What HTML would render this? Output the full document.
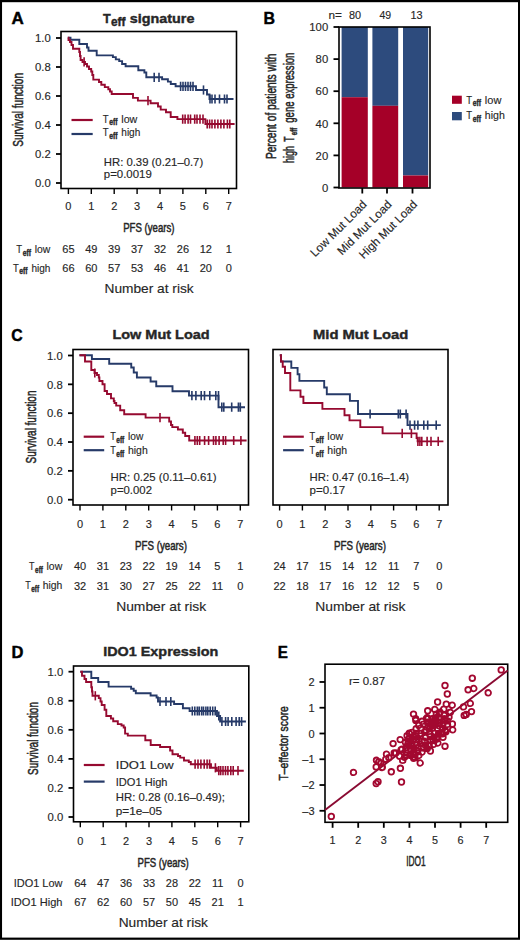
<!DOCTYPE html>
<html><head><meta charset="utf-8"><style>
html,body{margin:0;padding:0;background:#fff;}
svg{display:block;font-family:"Liberation Sans", sans-serif;}
text{stroke:#262626;stroke-width:0.14px;}
text.h{stroke-width:0.5px;}
text[font-weight=bold]{stroke-width:0.4px;}
text.L{stroke:#000;stroke-width:0.45px;}
</style></head><body>
<svg width="520" height="940" viewBox="0 0 520 940">
<rect width="520" height="940" fill="#fff"/>
<rect x="0.95" y="1.1" width="518.15" height="937.6" fill="none" stroke="#000" stroke-width="2.2"/>
<text x="11.50" y="24" font-size="17.2" font-weight="bold" textLength="12.29" lengthAdjust="spacingAndGlyphs" fill="#000" class="L">A</text>
<text x="102.90" y="22.9" font-size="13.4" font-weight="bold" textLength="7.71" lengthAdjust="spacingAndGlyphs" fill="#262626">T</text>
<text x="111.00" y="26.3" font-size="12" font-weight="bold" textLength="14.47" lengthAdjust="spacingAndGlyphs" fill="#262626">eff</text>
<text x="129.80" y="22.9" font-size="13.6" font-weight="bold" textLength="64.62" lengthAdjust="spacingAndGlyphs" fill="#262626">signature</text>
<rect x="61" y="31.5" width="175.5" height="157.0" fill="none" stroke="#000" stroke-width="1.6"/>
<line x1="56" y1="183.0" x2="61" y2="183.0" stroke="#000" stroke-width="1.8"/>
<text x="50.8" y="187.3" font-size="11.3" text-anchor="end" fill="#262626">0.0</text>
<line x1="56" y1="154.0" x2="61" y2="154.0" stroke="#000" stroke-width="1.8"/>
<text x="50.8" y="158.3" font-size="11.3" text-anchor="end" fill="#262626">0.2</text>
<line x1="56" y1="125.0" x2="61" y2="125.0" stroke="#000" stroke-width="1.8"/>
<text x="50.8" y="129.3" font-size="11.3" text-anchor="end" fill="#262626">0.4</text>
<line x1="56" y1="95.99999999999999" x2="61" y2="95.99999999999999" stroke="#000" stroke-width="1.8"/>
<text x="50.8" y="100.3" font-size="11.3" text-anchor="end" fill="#262626">0.6</text>
<line x1="56" y1="67.0" x2="61" y2="67.0" stroke="#000" stroke-width="1.8"/>
<text x="50.8" y="71.3" font-size="11.3" text-anchor="end" fill="#262626">0.8</text>
<line x1="56" y1="38.0" x2="61" y2="38.0" stroke="#000" stroke-width="1.8"/>
<text x="50.8" y="42.3" font-size="11.3" text-anchor="end" fill="#262626">1.0</text>
<line x1="68.4" y1="188.5" x2="68.4" y2="194.0" stroke="#000" stroke-width="1.4"/>
<text x="68.4" y="210" font-size="11" text-anchor="middle" fill="#262626">0</text>
<line x1="91.30000000000001" y1="188.5" x2="91.30000000000001" y2="194.0" stroke="#000" stroke-width="1.4"/>
<text x="91.3" y="210" font-size="11" text-anchor="middle" fill="#262626">1</text>
<line x1="114.2" y1="188.5" x2="114.2" y2="194.0" stroke="#000" stroke-width="1.4"/>
<text x="114.2" y="210" font-size="11" text-anchor="middle" fill="#262626">2</text>
<line x1="137.1" y1="188.5" x2="137.1" y2="194.0" stroke="#000" stroke-width="1.4"/>
<text x="137.1" y="210" font-size="11" text-anchor="middle" fill="#262626">3</text>
<line x1="160.0" y1="188.5" x2="160.0" y2="194.0" stroke="#000" stroke-width="1.4"/>
<text x="160.0" y="210" font-size="11" text-anchor="middle" fill="#262626">4</text>
<line x1="182.9" y1="188.5" x2="182.9" y2="194.0" stroke="#000" stroke-width="1.4"/>
<text x="182.9" y="210" font-size="11" text-anchor="middle" fill="#262626">5</text>
<line x1="205.79999999999998" y1="188.5" x2="205.79999999999998" y2="194.0" stroke="#000" stroke-width="1.4"/>
<text x="205.8" y="210" font-size="11" text-anchor="middle" fill="#262626">6</text>
<line x1="228.7" y1="188.5" x2="228.7" y2="194.0" stroke="#000" stroke-width="1.4"/>
<text x="228.7" y="210" font-size="11" text-anchor="middle" fill="#262626">7</text>
<text class="h" transform="translate(22.9,146.80) rotate(-90)" x="0" y="0" font-size="13.8" textLength="73.82" lengthAdjust="spacingAndGlyphs" fill="#262626">Survival function</text>
<text x="123.20" y="232.4" font-size="12.9" textLength="51.29" lengthAdjust="spacingAndGlyphs" fill="#262626" class="h">PFS (years)</text>
<text x="16.25" y="253" font-size="11.5" textLength="5.81" lengthAdjust="spacingAndGlyphs" fill="#262626">T</text>
<text x="22.65" y="255.7" font-size="8.6" font-weight="bold" textLength="8.28" lengthAdjust="spacingAndGlyphs" fill="#262626">eff</text>
<text x="34.75" y="253" font-size="11.5" textLength="15.60" lengthAdjust="spacingAndGlyphs" fill="#262626">low</text>
<text x="12.90" y="271.7" font-size="11.5" textLength="5.81" lengthAdjust="spacingAndGlyphs" fill="#262626">T</text>
<text x="19.30" y="274.4" font-size="8.6" font-weight="bold" textLength="8.28" lengthAdjust="spacingAndGlyphs" fill="#262626">eff</text>
<text x="31.40" y="271.7" font-size="11.5" textLength="19.01" lengthAdjust="spacingAndGlyphs" fill="#262626">high</text>
<text x="68.4" y="253" font-size="11" text-anchor="middle" fill="#262626">65</text>
<text x="91.3" y="253" font-size="11" text-anchor="middle" fill="#262626">49</text>
<text x="114.2" y="253" font-size="11" text-anchor="middle" fill="#262626">39</text>
<text x="137.1" y="253" font-size="11" text-anchor="middle" fill="#262626">37</text>
<text x="160.0" y="253" font-size="11" text-anchor="middle" fill="#262626">32</text>
<text x="182.9" y="253" font-size="11" text-anchor="middle" fill="#262626">26</text>
<text x="205.8" y="253" font-size="11" text-anchor="middle" fill="#262626">12</text>
<text x="228.7" y="253" font-size="11" text-anchor="middle" fill="#262626">1</text>
<text x="68.4" y="272" font-size="11" text-anchor="middle" fill="#262626">66</text>
<text x="91.3" y="272" font-size="11" text-anchor="middle" fill="#262626">60</text>
<text x="114.2" y="272" font-size="11" text-anchor="middle" fill="#262626">57</text>
<text x="137.1" y="272" font-size="11" text-anchor="middle" fill="#262626">53</text>
<text x="160.0" y="272" font-size="11" text-anchor="middle" fill="#262626">46</text>
<text x="182.9" y="272" font-size="11" text-anchor="middle" fill="#262626">41</text>
<text x="205.8" y="272" font-size="11" text-anchor="middle" fill="#262626">20</text>
<text x="228.7" y="272" font-size="11" text-anchor="middle" fill="#262626">0</text>
<text x="104.50" y="293" font-size="13" textLength="89.20" lengthAdjust="spacingAndGlyphs" fill="#262626">Number at risk</text>
<path d="M67.8,37.8 H70.5 V39.8 H79.3 V44 H87 V47.5 H88.5 V50.8 H96.7 V55.4 H112.9 V57.1 H115.8 V59.4 H119.2 V61.1 H122.1 V64 H125.6 V66.3 H138.3 V70.3 H144.4 V72.5 H146.3 V77.3 H162.1 V79.2 H167.9 V81.6 H170.8 V84 H175.6 V86.3 H196 V90 H207 V94.5 H209.5 V99 H233.5" fill="none" stroke="#263a68" stroke-width="1.9" stroke-linejoin="miter"/>
<path d="M154.2,72.7V81.89999999999999M159,72.7V81.89999999999999" fill="none" stroke="#263a68" stroke-width="1.6"/>
<path d="M180.6,81.7V90.89999999999999M183,81.7V90.89999999999999M185.5,81.7V90.89999999999999M188,81.7V90.89999999999999M190.5,81.7V90.89999999999999M193,81.7V90.89999999999999" fill="none" stroke="#263a68" stroke-width="1.6"/>
<path d="M203.5,85.4V94.6" fill="none" stroke="#263a68" stroke-width="1.6"/>
<path d="M210,94.4V103.6M212,94.4V103.6M215,94.4V103.6M219.5,94.4V103.6M224.5,94.4V103.6M227,94.4V103.6" fill="none" stroke="#263a68" stroke-width="1.6"/>
<path d="M67.8,37.8 H68.5 V40 H70 V42 H71.5 V45 H73 V48.8 H79.3 V52 H80 V56 H80.6 V60 H82.5 V62 H85 V64 H87 V66.5 H89 V69 H91.2 V71.5 H92.3 V75 H93.3 V79.6 H99 V82 H101.3 V84.8 H104.8 V87.1 H108.3 V89.3 H110 V91.5 H111.7 V94 H133 V97.9 H137.9 V100.6 H150.6 V103.2 H158 V106.5 H160.7 V109.6 H166 V112.2 H170.7 V117 H177.4 V119.1 H205.4 V124 H234.6" fill="none" stroke="#960a30" stroke-width="1.9" stroke-linejoin="miter"/>
<path d="M84.1,57.199999999999996V66.39999999999999" fill="none" stroke="#960a30" stroke-width="1.6"/>
<path d="M148,96.0V105.19999999999999" fill="none" stroke="#960a30" stroke-width="1.6"/>
<path d="M182.7,114.5V123.69999999999999M185.1,114.5V123.69999999999999M188.1,114.5V123.69999999999999M190.5,114.5V123.69999999999999M194.7,114.5V123.69999999999999M197,114.5V123.69999999999999M200,114.5V123.69999999999999M203,114.5V123.69999999999999" fill="none" stroke="#960a30" stroke-width="1.6"/>
<path d="M207.2,119.4V128.6M209.6,119.4V128.6M212,119.4V128.6M214.9,119.4V128.6M217.9,119.4V128.6M220.9,119.4V128.6M223.9,119.4V128.6M227.4,119.4V128.6M229.8,119.4V128.6" fill="none" stroke="#960a30" stroke-width="1.6"/>
<line x1="71.5" y1="120" x2="92.7" y2="120" stroke="#960a30" stroke-width="2.2"/>
<line x1="71.5" y1="134" x2="92.7" y2="134" stroke="#263a68" stroke-width="2.2"/>
<text x="102.80" y="122.7" font-size="11.5" textLength="5.81" lengthAdjust="spacingAndGlyphs" fill="#262626">T</text>
<text x="109.20" y="125.4" font-size="8.6" font-weight="bold" textLength="8.28" lengthAdjust="spacingAndGlyphs" fill="#262626">eff</text>
<text x="121.30" y="122.7" font-size="11.5" textLength="16.05" lengthAdjust="spacingAndGlyphs" fill="#262626">low</text>
<text x="102.80" y="136.4" font-size="11.5" textLength="5.81" lengthAdjust="spacingAndGlyphs" fill="#262626">T</text>
<text x="109.20" y="139.1" font-size="8.6" font-weight="bold" textLength="8.28" lengthAdjust="spacingAndGlyphs" fill="#262626">eff</text>
<text x="121.30" y="136.4" font-size="11.5" textLength="19.01" lengthAdjust="spacingAndGlyphs" fill="#262626">high</text>
<text x="103.80" y="165.5" font-size="11.2" textLength="99.38" lengthAdjust="spacingAndGlyphs" fill="#262626">HR: 0.39 (0.21–0.7)</text>
<text x="103.80" y="178.1" font-size="11.2" textLength="47.99" lengthAdjust="spacingAndGlyphs" fill="#262626">p=0.0019</text>
<text x="263.40" y="23.75" font-size="17.2" font-weight="bold" textLength="11.53" lengthAdjust="spacingAndGlyphs" fill="#000" class="L">B</text>
<text x="328.40" y="19.1" font-size="11.2" textLength="13.40" lengthAdjust="spacingAndGlyphs" fill="#262626">n=</text>
<text x="349.00" y="19.1" font-size="11.2" textLength="12.13" lengthAdjust="spacingAndGlyphs" fill="#262626">80</text>
<text x="379.50" y="19.1" font-size="11.2" textLength="11.72" lengthAdjust="spacingAndGlyphs" fill="#262626">49</text>
<text x="410.50" y="19.1" font-size="11.2" textLength="12.13" lengthAdjust="spacingAndGlyphs" fill="#262626">13</text>
<rect x="341.6" y="27" width="26.19999999999999" height="70.21875" fill="#2d4b7d"/>
<rect x="341.6" y="97.21875" width="26.19999999999999" height="90.28125" fill="#a50028"/>
<rect x="372.4" y="27" width="25.80000000000001" height="78.8055" fill="#2d4b7d"/>
<rect x="372.4" y="105.8055" width="25.80000000000001" height="81.6945" fill="#a50028"/>
<rect x="403" y="27" width="25.19999999999999" height="148.4625" fill="#2d4b7d"/>
<rect x="403" y="175.4625" width="25.19999999999999" height="12.037499999999994" fill="#a50028"/>
<rect x="339" y="27" width="91" height="161" fill="none" stroke="#000" stroke-width="1.6"/>
<line x1="333.5" y1="187.5" x2="339" y2="187.5" stroke="#000" stroke-width="1.8"/>
<text x="328.2" y="191.7" font-size="11.3" text-anchor="end" fill="#262626">0</text>
<line x1="333.5" y1="155.4" x2="339" y2="155.4" stroke="#000" stroke-width="1.8"/>
<text x="328.2" y="159.6" font-size="11.3" text-anchor="end" fill="#262626">20</text>
<line x1="333.5" y1="123.3" x2="339" y2="123.3" stroke="#000" stroke-width="1.8"/>
<text x="328.2" y="127.5" font-size="11.3" text-anchor="end" fill="#262626">40</text>
<line x1="333.5" y1="91.2" x2="339" y2="91.2" stroke="#000" stroke-width="1.8"/>
<text x="328.2" y="95.4" font-size="11.3" text-anchor="end" fill="#262626">60</text>
<line x1="333.5" y1="59.099999999999994" x2="339" y2="59.099999999999994" stroke="#000" stroke-width="1.8"/>
<text x="328.2" y="63.3" font-size="11.3" text-anchor="end" fill="#262626">80</text>
<line x1="333.5" y1="27.0" x2="339" y2="27.0" stroke="#000" stroke-width="1.8"/>
<text x="328.2" y="31.2" font-size="11.3" text-anchor="end" fill="#262626">100</text>
<line x1="362.3" y1="188" x2="362.3" y2="193.5" stroke="#000" stroke-width="1.8"/>
<line x1="387" y1="188" x2="387" y2="193.5" stroke="#000" stroke-width="1.8"/>
<line x1="412.5" y1="188" x2="412.5" y2="193.5" stroke="#000" stroke-width="1.8"/>
<text transform="translate(367.5,205.2) rotate(-45)" font-size="11.8" text-anchor="end" fill="#262626">Low Mut Load</text>
<text transform="translate(392.5,205.2) rotate(-45)" font-size="11.8" text-anchor="end" fill="#262626">Mid Mut Load</text>
<text transform="translate(418,205.2) rotate(-45)" font-size="11.8" text-anchor="end" fill="#262626">High Mut Load</text>
<text class="h" transform="translate(276,159.10) rotate(-90)" x="0" y="0" font-size="14" textLength="105.60" lengthAdjust="spacingAndGlyphs" fill="#262626">Percent of patients with</text>
<text class="h" transform="translate(293.7,163.10) rotate(-90)" x="0" y="0" font-size="14" textLength="17.01" lengthAdjust="spacingAndGlyphs" fill="#262626">high</text>
<text class="h" transform="translate(293.7,141.80) rotate(-90)" x="0" y="0" font-size="14" textLength="5.31" lengthAdjust="spacingAndGlyphs" fill="#262626">T</text>
<text class="h" transform="translate(296.9,135.20) rotate(-90)" x="0" y="0" font-size="9" font-weight="bold" textLength="7.48" lengthAdjust="spacingAndGlyphs" fill="#262626">eff</text>
<text class="h" transform="translate(293.7,122.70) rotate(-90)" x="0" y="0" font-size="14" textLength="70.09" lengthAdjust="spacingAndGlyphs" fill="#262626">gene expression</text>
<rect x="452" y="95.7" width="9.8" height="8.1" fill="#a50028"/>
<rect x="452" y="112" width="9.8" height="8.3" fill="#2d4b7d"/>
<text x="466.30" y="103.5" font-size="11.5" textLength="5.81" lengthAdjust="spacingAndGlyphs" fill="#262626">T</text>
<text x="472.70" y="106.2" font-size="8.6" font-weight="bold" textLength="8.28" lengthAdjust="spacingAndGlyphs" fill="#262626">eff</text>
<text x="484.80" y="103.5" font-size="11.5" textLength="16.55" lengthAdjust="spacingAndGlyphs" fill="#262626">low</text>
<text x="466.30" y="119.1" font-size="11.5" textLength="5.81" lengthAdjust="spacingAndGlyphs" fill="#262626">T</text>
<text x="472.70" y="121.8" font-size="8.6" font-weight="bold" textLength="8.28" lengthAdjust="spacingAndGlyphs" fill="#262626">eff</text>
<text x="484.80" y="119.1" font-size="11.5" textLength="20.01" lengthAdjust="spacingAndGlyphs" fill="#262626">high</text>
<text x="11.20" y="340.6" font-size="17.2" font-weight="bold" textLength="11.43" lengthAdjust="spacingAndGlyphs" fill="#000" class="L">C</text>
<text x="112.40" y="339.3" font-size="13.2" font-weight="bold" textLength="97.31" lengthAdjust="spacingAndGlyphs" fill="#262626">Low Mut Load</text>
<text x="313.00" y="339.3" font-size="13.2" font-weight="bold" textLength="95.17" lengthAdjust="spacingAndGlyphs" fill="#262626">Mid Mut Load</text>
<rect x="73" y="349.5" width="175.5" height="155.5" fill="none" stroke="#000" stroke-width="1.6"/>
<line x1="68" y1="499.7" x2="73" y2="499.7" stroke="#000" stroke-width="1.8"/>
<text x="62.8" y="504.0" font-size="11.3" text-anchor="end" fill="#262626">0.0</text>
<line x1="68" y1="470.86" x2="73" y2="470.86" stroke="#000" stroke-width="1.8"/>
<text x="62.8" y="475.16" font-size="11.3" text-anchor="end" fill="#262626">0.2</text>
<line x1="68" y1="442.02" x2="73" y2="442.02" stroke="#000" stroke-width="1.8"/>
<text x="62.8" y="446.32" font-size="11.3" text-anchor="end" fill="#262626">0.4</text>
<line x1="68" y1="413.17999999999995" x2="73" y2="413.17999999999995" stroke="#000" stroke-width="1.8"/>
<text x="62.8" y="417.48" font-size="11.3" text-anchor="end" fill="#262626">0.6</text>
<line x1="68" y1="384.34" x2="73" y2="384.34" stroke="#000" stroke-width="1.8"/>
<text x="62.8" y="388.64" font-size="11.3" text-anchor="end" fill="#262626">0.8</text>
<line x1="68" y1="355.5" x2="73" y2="355.5" stroke="#000" stroke-width="1.8"/>
<text x="62.8" y="359.8" font-size="11.3" text-anchor="end" fill="#262626">1.0</text>
<line x1="80.0" y1="505" x2="80.0" y2="510.5" stroke="#000" stroke-width="1.4"/>
<text x="80.0" y="527.5" font-size="11" text-anchor="middle" fill="#262626">0</text>
<line x1="102.9" y1="505" x2="102.9" y2="510.5" stroke="#000" stroke-width="1.4"/>
<text x="102.9" y="527.5" font-size="11" text-anchor="middle" fill="#262626">1</text>
<line x1="125.8" y1="505" x2="125.8" y2="510.5" stroke="#000" stroke-width="1.4"/>
<text x="125.8" y="527.5" font-size="11" text-anchor="middle" fill="#262626">2</text>
<line x1="148.7" y1="505" x2="148.7" y2="510.5" stroke="#000" stroke-width="1.4"/>
<text x="148.7" y="527.5" font-size="11" text-anchor="middle" fill="#262626">3</text>
<line x1="171.6" y1="505" x2="171.6" y2="510.5" stroke="#000" stroke-width="1.4"/>
<text x="171.6" y="527.5" font-size="11" text-anchor="middle" fill="#262626">4</text>
<line x1="194.5" y1="505" x2="194.5" y2="510.5" stroke="#000" stroke-width="1.4"/>
<text x="194.5" y="527.5" font-size="11" text-anchor="middle" fill="#262626">5</text>
<line x1="217.39999999999998" y1="505" x2="217.39999999999998" y2="510.5" stroke="#000" stroke-width="1.4"/>
<text x="217.4" y="527.5" font-size="11" text-anchor="middle" fill="#262626">6</text>
<line x1="240.29999999999998" y1="505" x2="240.29999999999998" y2="510.5" stroke="#000" stroke-width="1.4"/>
<text x="240.3" y="527.5" font-size="11" text-anchor="middle" fill="#262626">7</text>
<rect x="273" y="349.5" width="175" height="155.5" fill="none" stroke="#000" stroke-width="1.6"/>
<line x1="279.6" y1="505" x2="279.6" y2="510.5" stroke="#000" stroke-width="1.4"/>
<text x="279.6" y="527.5" font-size="11" text-anchor="middle" fill="#262626">0</text>
<line x1="302.40000000000003" y1="505" x2="302.40000000000003" y2="510.5" stroke="#000" stroke-width="1.4"/>
<text x="302.4" y="527.5" font-size="11" text-anchor="middle" fill="#262626">1</text>
<line x1="325.20000000000005" y1="505" x2="325.20000000000005" y2="510.5" stroke="#000" stroke-width="1.4"/>
<text x="325.2" y="527.5" font-size="11" text-anchor="middle" fill="#262626">2</text>
<line x1="348.0" y1="505" x2="348.0" y2="510.5" stroke="#000" stroke-width="1.4"/>
<text x="348.0" y="527.5" font-size="11" text-anchor="middle" fill="#262626">3</text>
<line x1="370.8" y1="505" x2="370.8" y2="510.5" stroke="#000" stroke-width="1.4"/>
<text x="370.8" y="527.5" font-size="11" text-anchor="middle" fill="#262626">4</text>
<line x1="393.6" y1="505" x2="393.6" y2="510.5" stroke="#000" stroke-width="1.4"/>
<text x="393.6" y="527.5" font-size="11" text-anchor="middle" fill="#262626">5</text>
<line x1="416.40000000000003" y1="505" x2="416.40000000000003" y2="510.5" stroke="#000" stroke-width="1.4"/>
<text x="416.4" y="527.5" font-size="11" text-anchor="middle" fill="#262626">6</text>
<line x1="439.20000000000005" y1="505" x2="439.20000000000005" y2="510.5" stroke="#000" stroke-width="1.4"/>
<text x="439.2" y="527.5" font-size="11" text-anchor="middle" fill="#262626">7</text>
<text class="h" transform="translate(35.9,463.50) rotate(-90)" x="0" y="0" font-size="14.2" textLength="72.92" lengthAdjust="spacingAndGlyphs" fill="#262626">Survival function</text>
<text x="135.00" y="549.5" font-size="12.9" textLength="51.99" lengthAdjust="spacingAndGlyphs" fill="#262626" class="h">PFS (years)</text>
<text x="334.00" y="549.5" font-size="12.9" textLength="51.99" lengthAdjust="spacingAndGlyphs" fill="#262626" class="h">PFS (years)</text>
<text x="29.10" y="569.9" font-size="11.5" textLength="5.46" lengthAdjust="spacingAndGlyphs" fill="#262626">T</text>
<text x="35.12" y="572.6" font-size="8.6" font-weight="bold" textLength="7.78" lengthAdjust="spacingAndGlyphs" fill="#262626">eff</text>
<text x="46.49" y="569.9" font-size="11.5" textLength="15.76" lengthAdjust="spacingAndGlyphs" fill="#262626">low</text>
<text x="25.30" y="589.1" font-size="11.5" textLength="5.46" lengthAdjust="spacingAndGlyphs" fill="#262626">T</text>
<text x="31.32" y="591.8000000000001" font-size="8.6" font-weight="bold" textLength="7.78" lengthAdjust="spacingAndGlyphs" fill="#262626">eff</text>
<text x="42.69" y="589.1" font-size="11.5" textLength="19.62" lengthAdjust="spacingAndGlyphs" fill="#262626">high</text>
<text x="80.0" y="570" font-size="11" text-anchor="middle" fill="#262626">40</text>
<text x="102.9" y="570" font-size="11" text-anchor="middle" fill="#262626">31</text>
<text x="125.8" y="570" font-size="11" text-anchor="middle" fill="#262626">23</text>
<text x="148.7" y="570" font-size="11" text-anchor="middle" fill="#262626">22</text>
<text x="171.6" y="570" font-size="11" text-anchor="middle" fill="#262626">19</text>
<text x="194.5" y="570" font-size="11" text-anchor="middle" fill="#262626">14</text>
<text x="217.4" y="570" font-size="11" text-anchor="middle" fill="#262626">5</text>
<text x="240.3" y="570" font-size="11" text-anchor="middle" fill="#262626">1</text>
<text x="80.0" y="589.5" font-size="11" text-anchor="middle" fill="#262626">32</text>
<text x="102.9" y="589.5" font-size="11" text-anchor="middle" fill="#262626">31</text>
<text x="125.8" y="589.5" font-size="11" text-anchor="middle" fill="#262626">30</text>
<text x="148.7" y="589.5" font-size="11" text-anchor="middle" fill="#262626">27</text>
<text x="171.6" y="589.5" font-size="11" text-anchor="middle" fill="#262626">25</text>
<text x="194.5" y="589.5" font-size="11" text-anchor="middle" fill="#262626">22</text>
<text x="217.4" y="589.5" font-size="11" text-anchor="middle" fill="#262626">11</text>
<text x="240.3" y="589.5" font-size="11" text-anchor="middle" fill="#262626">0</text>
<text x="279.6" y="570" font-size="11" text-anchor="middle" fill="#262626">24</text>
<text x="302.4" y="570" font-size="11" text-anchor="middle" fill="#262626">17</text>
<text x="325.2" y="570" font-size="11" text-anchor="middle" fill="#262626">15</text>
<text x="348.0" y="570" font-size="11" text-anchor="middle" fill="#262626">14</text>
<text x="370.8" y="570" font-size="11" text-anchor="middle" fill="#262626">12</text>
<text x="393.6" y="570" font-size="11" text-anchor="middle" fill="#262626">11</text>
<text x="416.4" y="570" font-size="11" text-anchor="middle" fill="#262626">7</text>
<text x="439.2" y="570" font-size="11" text-anchor="middle" fill="#262626">0</text>
<text x="279.6" y="589.5" font-size="11" text-anchor="middle" fill="#262626">22</text>
<text x="302.4" y="589.5" font-size="11" text-anchor="middle" fill="#262626">18</text>
<text x="325.2" y="589.5" font-size="11" text-anchor="middle" fill="#262626">17</text>
<text x="348.0" y="589.5" font-size="11" text-anchor="middle" fill="#262626">16</text>
<text x="370.8" y="589.5" font-size="11" text-anchor="middle" fill="#262626">12</text>
<text x="393.6" y="589.5" font-size="11" text-anchor="middle" fill="#262626">12</text>
<text x="416.4" y="589.5" font-size="11" text-anchor="middle" fill="#262626">5</text>
<text x="439.2" y="589.5" font-size="11" text-anchor="middle" fill="#262626">0</text>
<text x="116.20" y="610.5" font-size="13" textLength="89.95" lengthAdjust="spacingAndGlyphs" fill="#262626">Number at risk</text>
<text x="315.30" y="610.5" font-size="13" textLength="90.05" lengthAdjust="spacingAndGlyphs" fill="#262626">Number at risk</text>
<path d="M79.5,355.2 H91.9 V359.0 H109.2 V363.8 H131.25 V367.5 H133.75 V372.5 H136.9 V377.5 H150.6 V381.5 H156.25 V386.25 H172.5 V391.25 H189.0 V395.6 H218.5 V407.2 H245" fill="none" stroke="#263a68" stroke-width="1.9" stroke-linejoin="miter"/>
<path d="M191.9,391.0V400.20000000000005M195.9,391.0V400.20000000000005M201.2,391.0V400.20000000000005M204.5,391.0V400.20000000000005M209.8,391.0V400.20000000000005M215.8,391.0V400.20000000000005M218.5,391.0V400.20000000000005" fill="none" stroke="#263a68" stroke-width="1.6"/>
<path d="M221.8,402.59999999999997V411.8M223.8,402.59999999999997V411.8M231.7,402.59999999999997V411.8M238.4,402.59999999999997V411.8M240.3,402.59999999999997V411.8" fill="none" stroke="#263a68" stroke-width="1.6"/>
<path d="M79.5,355.2 H85.0 V361.5 H91.3 V370.0 H94.5 V373.0 H97.0 V375.0 H98.8 V377.5 H99.4 V381.0 H102.5 V384.3 H104.6 V391.0 H107.0 V394.0 H111.0 V398.4 H113.8 V401.0 H114.5 V403.0 H116.2 V405.6 H120.2 V410.2 H124.2 V414.2 H145.6 V417.6 H169.2 V421.5 H171.0 V425.0 H172.3 V427.1 H177.9 V429.5 H182.8 V432.8 H185.2 V436.0 H189.2 V440.5 H246.6" fill="none" stroke="#960a30" stroke-width="1.9" stroke-linejoin="miter"/>
<path d="M94.8,368.4V377.6" fill="none" stroke="#960a30" stroke-width="1.6"/>
<path d="M160,413.0V422.20000000000005" fill="none" stroke="#960a30" stroke-width="1.6"/>
<path d="M194.9,435.9V445.1M197.3,435.9V445.1M199.7,435.9V445.1M204.6,435.9V445.1M208.6,435.9V445.1M213.5,435.9V445.1M215.9,435.9V445.1M219.1,435.9V445.1M223.2,435.9V445.1M225.6,435.9V445.1M233.7,435.9V445.1M240.9,435.9V445.1" fill="none" stroke="#960a30" stroke-width="1.6"/>
<path d="M279.8,355.2 H281.0 V361.5 H291.3 V367.9 H297.6 V374.2 H299.4 V380.9 H324.2 V387.5 H326.8 V394.2 H349.9 V400.9 H358.0 V414.0 H407.5 V425.1 H440.8" fill="none" stroke="#263a68" stroke-width="1.9" stroke-linejoin="miter"/>
<path d="M370.1,409.4V418.6M398.3,409.4V418.6M400.3,409.4V418.6M406.1,409.4V418.6" fill="none" stroke="#263a68" stroke-width="1.6"/>
<path d="M410,420.5V429.70000000000005M414.6,420.5V429.70000000000005M417.9,420.5V429.70000000000005M423.8,420.5V429.70000000000005M427.7,420.5V429.70000000000005M436.2,420.5V429.70000000000005" fill="none" stroke="#263a68" stroke-width="1.6"/>
<path d="M279.8,355.2 H281.0 V361.5 H282.7 V366.7 H285.0 V373.0 H290.3 V390.4 H300.5 V396.7 H303.4 V403.0 H322.4 V408.9 H344.5 V415.3 H349.5 V420.4 H360.3 V427.1 H382.6 V433.4 H416.6 V438.0 H417.6 V441.4 H443.4" fill="none" stroke="#960a30" stroke-width="1.9" stroke-linejoin="miter"/>
<path d="M402.2,428.79999999999995V438.0M411.4,428.79999999999995V438.0" fill="none" stroke="#960a30" stroke-width="1.6"/>
<path d="M417.9,436.79999999999995V446.0M419.9,436.79999999999995V446.0M421.8,436.79999999999995V446.0M427.1,436.79999999999995V446.0M431,436.79999999999995V446.0M438.2,436.79999999999995V446.0" fill="none" stroke="#960a30" stroke-width="1.6"/>
<line x1="83.7" y1="436.7" x2="104.2" y2="436.7" stroke="#960a30" stroke-width="2.2"/>
<line x1="83.7" y1="450.2" x2="104.2" y2="450.2" stroke="#263a68" stroke-width="2.2"/>
<text x="110.20" y="440.2" font-size="11.5" textLength="5.58" lengthAdjust="spacingAndGlyphs" fill="#262626">T</text>
<text x="116.34" y="442.9" font-size="8.6" font-weight="bold" textLength="7.95" lengthAdjust="spacingAndGlyphs" fill="#262626">eff</text>
<text x="127.96" y="440.2" font-size="11.5" textLength="15.29" lengthAdjust="spacingAndGlyphs" fill="#262626">low</text>
<text x="110.20" y="454.2" font-size="11.5" textLength="5.58" lengthAdjust="spacingAndGlyphs" fill="#262626">T</text>
<text x="116.34" y="456.9" font-size="8.6" font-weight="bold" textLength="7.95" lengthAdjust="spacingAndGlyphs" fill="#262626">eff</text>
<text x="127.96" y="454.2" font-size="11.5" textLength="19.75" lengthAdjust="spacingAndGlyphs" fill="#262626">high</text>
<text x="110.60" y="481.2" font-size="11.2" textLength="105.90" lengthAdjust="spacingAndGlyphs" fill="#262626">HR: 0.25 (0.11–0.61)</text>
<text x="110.60" y="494" font-size="11.2" textLength="41.37" lengthAdjust="spacingAndGlyphs" fill="#262626">p=0.002</text>
<line x1="283.1" y1="436.7" x2="303.8" y2="436.7" stroke="#960a30" stroke-width="2.2"/>
<line x1="283.1" y1="450.2" x2="303.8" y2="450.2" stroke="#263a68" stroke-width="2.2"/>
<text x="309.60" y="440.2" font-size="11.5" textLength="5.58" lengthAdjust="spacingAndGlyphs" fill="#262626">T</text>
<text x="315.74" y="442.9" font-size="8.6" font-weight="bold" textLength="7.95" lengthAdjust="spacingAndGlyphs" fill="#262626">eff</text>
<text x="327.36" y="440.2" font-size="11.5" textLength="15.89" lengthAdjust="spacingAndGlyphs" fill="#262626">low</text>
<text x="309.60" y="454.2" font-size="11.5" textLength="5.58" lengthAdjust="spacingAndGlyphs" fill="#262626">T</text>
<text x="315.74" y="456.9" font-size="8.6" font-weight="bold" textLength="7.95" lengthAdjust="spacingAndGlyphs" fill="#262626">eff</text>
<text x="327.36" y="454.2" font-size="11.5" textLength="19.75" lengthAdjust="spacingAndGlyphs" fill="#262626">high</text>
<text x="309.60" y="481.2" font-size="11.2" textLength="99.38" lengthAdjust="spacingAndGlyphs" fill="#262626">HR: 0.47 (0.16–1.4)</text>
<text x="309.60" y="494" font-size="11.2" textLength="35.62" lengthAdjust="spacingAndGlyphs" fill="#262626">p=0.17</text>
<text x="11.60" y="657.7" font-size="17.2" font-weight="bold" textLength="11.94" lengthAdjust="spacingAndGlyphs" fill="#000" class="L">D</text>
<text x="103.20" y="656.4" font-size="13.3" font-weight="bold" textLength="115.17" lengthAdjust="spacingAndGlyphs" fill="#262626">IDO1 Expression</text>
<rect x="73.5" y="666" width="175.3" height="155.79999999999995" fill="none" stroke="#000" stroke-width="1.6"/>
<line x1="68.5" y1="817.0" x2="73.5" y2="817.0" stroke="#000" stroke-width="1.8"/>
<text x="63.3" y="821.3" font-size="11.3" text-anchor="end" fill="#262626">0.0</text>
<line x1="68.5" y1="787.94" x2="73.5" y2="787.94" stroke="#000" stroke-width="1.8"/>
<text x="63.3" y="792.24" font-size="11.3" text-anchor="end" fill="#262626">0.2</text>
<line x1="68.5" y1="758.88" x2="73.5" y2="758.88" stroke="#000" stroke-width="1.8"/>
<text x="63.3" y="763.18" font-size="11.3" text-anchor="end" fill="#262626">0.4</text>
<line x1="68.5" y1="729.82" x2="73.5" y2="729.82" stroke="#000" stroke-width="1.8"/>
<text x="63.3" y="734.12" font-size="11.3" text-anchor="end" fill="#262626">0.6</text>
<line x1="68.5" y1="700.76" x2="73.5" y2="700.76" stroke="#000" stroke-width="1.8"/>
<text x="63.3" y="705.06" font-size="11.3" text-anchor="end" fill="#262626">0.8</text>
<line x1="68.5" y1="671.7" x2="73.5" y2="671.7" stroke="#000" stroke-width="1.8"/>
<text x="63.3" y="676.0" font-size="11.3" text-anchor="end" fill="#262626">1.0</text>
<line x1="80.3" y1="821.8" x2="80.3" y2="827.3" stroke="#000" stroke-width="1.4"/>
<text x="80.3" y="844.5" font-size="11" text-anchor="middle" fill="#262626">0</text>
<line x1="103.19999999999999" y1="821.8" x2="103.19999999999999" y2="827.3" stroke="#000" stroke-width="1.4"/>
<text x="103.2" y="844.5" font-size="11" text-anchor="middle" fill="#262626">1</text>
<line x1="126.1" y1="821.8" x2="126.1" y2="827.3" stroke="#000" stroke-width="1.4"/>
<text x="126.1" y="844.5" font-size="11" text-anchor="middle" fill="#262626">2</text>
<line x1="149.0" y1="821.8" x2="149.0" y2="827.3" stroke="#000" stroke-width="1.4"/>
<text x="149.0" y="844.5" font-size="11" text-anchor="middle" fill="#262626">3</text>
<line x1="171.89999999999998" y1="821.8" x2="171.89999999999998" y2="827.3" stroke="#000" stroke-width="1.4"/>
<text x="171.9" y="844.5" font-size="11" text-anchor="middle" fill="#262626">4</text>
<line x1="194.8" y1="821.8" x2="194.8" y2="827.3" stroke="#000" stroke-width="1.4"/>
<text x="194.8" y="844.5" font-size="11" text-anchor="middle" fill="#262626">5</text>
<line x1="217.7" y1="821.8" x2="217.7" y2="827.3" stroke="#000" stroke-width="1.4"/>
<text x="217.7" y="844.5" font-size="11" text-anchor="middle" fill="#262626">6</text>
<line x1="240.59999999999997" y1="821.8" x2="240.59999999999997" y2="827.3" stroke="#000" stroke-width="1.4"/>
<text x="240.6" y="844.5" font-size="11" text-anchor="middle" fill="#262626">7</text>
<text class="h" transform="translate(38,775.00) rotate(-90)" x="0" y="0" font-size="14" textLength="72.92" lengthAdjust="spacingAndGlyphs" fill="#262626">Survival function</text>
<text x="137.50" y="866.5" font-size="12.9" textLength="51.29" lengthAdjust="spacingAndGlyphs" fill="#262626" class="h">PFS (years)</text>
<text x="13.75" y="887" font-size="11.3" textLength="48.71" lengthAdjust="spacingAndGlyphs" fill="#262626">IDO1 Low</text>
<text x="10.75" y="906.2" font-size="11.3" textLength="51.73" lengthAdjust="spacingAndGlyphs" fill="#262626">IDO1 High</text>
<text x="80.3" y="887" font-size="11" text-anchor="middle" fill="#262626">64</text>
<text x="103.2" y="887" font-size="11" text-anchor="middle" fill="#262626">47</text>
<text x="126.1" y="887" font-size="11" text-anchor="middle" fill="#262626">36</text>
<text x="149.0" y="887" font-size="11" text-anchor="middle" fill="#262626">33</text>
<text x="171.9" y="887" font-size="11" text-anchor="middle" fill="#262626">28</text>
<text x="194.8" y="887" font-size="11" text-anchor="middle" fill="#262626">22</text>
<text x="217.7" y="887" font-size="11" text-anchor="middle" fill="#262626">11</text>
<text x="240.6" y="887" font-size="11" text-anchor="middle" fill="#262626">0</text>
<text x="80.3" y="906.2" font-size="11" text-anchor="middle" fill="#262626">67</text>
<text x="103.2" y="906.2" font-size="11" text-anchor="middle" fill="#262626">62</text>
<text x="126.1" y="906.2" font-size="11" text-anchor="middle" fill="#262626">60</text>
<text x="149.0" y="906.2" font-size="11" text-anchor="middle" fill="#262626">57</text>
<text x="171.9" y="906.2" font-size="11" text-anchor="middle" fill="#262626">50</text>
<text x="194.8" y="906.2" font-size="11" text-anchor="middle" fill="#262626">45</text>
<text x="217.7" y="906.2" font-size="11" text-anchor="middle" fill="#262626">21</text>
<text x="240.6" y="906.2" font-size="11" text-anchor="middle" fill="#262626">1</text>
<text x="118.70" y="927.3" font-size="13" textLength="89.25" lengthAdjust="spacingAndGlyphs" fill="#262626">Number at risk</text>
<path d="M80.3,671.8 H91.3 V678.0 H98.2 V682.0 H108.6 V686.6 H131.1 V688.7 H133.7 V690.8 H135.8 V693.2 H150.6 V695.5 H156.6 V697.5 H158.0 V701.5 H174.1 V704.0 H182.9 V708.3 H189.6 V711.0 H217.0 V716.0 H220.1 V721.5 H245.9" fill="none" stroke="#263a68" stroke-width="1.9" stroke-linejoin="miter"/>
<path d="M160,696.9V706.1M166,696.9V706.1M170.8,696.9V706.1" fill="none" stroke="#263a68" stroke-width="1.6"/>
<path d="M192.3,706.4V715.6M194.8,706.4V715.6M197.3,706.4V715.6M199.2,706.4V715.6M201.6,706.4V715.6M203.5,706.4V715.6M205.9,706.4V715.6M207.8,706.4V715.6M210.2,706.4V715.6M212.7,706.4V715.6M215.2,706.4V715.6" fill="none" stroke="#263a68" stroke-width="1.6"/>
<path d="M218.8,711.4V720.6" fill="none" stroke="#263a68" stroke-width="1.6"/>
<path d="M221.9,716.9V726.1M225.6,716.9V726.1M228.1,716.9V726.1M231.8,716.9V726.1M236.1,716.9V726.1M239.2,716.9V726.1M241.6,716.9V726.1" fill="none" stroke="#263a68" stroke-width="1.6"/>
<path d="M80.3,671.8 H82.0 V675.7 H84.5 V679.0 H86.1 V682.0 H91.3 V687.2 H92.0 V691.5 H92.5 V695.8 H98.8 V698.1 H100.5 V701.5 H101.7 V705.0 H104.6 V709.7 H106.3 V716.0 H110.9 V718.5 H113.2 V721.2 H117.8 V724.1 H121.5 V725.5 H123.7 V727.5 H125.1 V733.6 H127.8 V735.6 H145.3 V740.3 H150.7 V745.0 H160.1 V747.0 H170.1 V750.5 H172.5 V754.2 H178.0 V756.0 H180.2 V757.6 H184.0 V760.5 H188.8 V762.0 H190.8 V764.2 H211.0 V767.8 H216.8 V770.7 H243.75" fill="none" stroke="#960a30" stroke-width="1.9" stroke-linejoin="miter"/>
<path d="M95.3,691.1999999999999V700.4" fill="none" stroke="#960a30" stroke-width="1.6"/>
<path d="M195.1,759.6V768.8000000000001M198,759.6V768.8000000000001M200.9,759.6V768.8000000000001M204.2,759.6V768.8000000000001M207.1,759.6V768.8000000000001M209.6,759.6V768.8000000000001" fill="none" stroke="#960a30" stroke-width="1.6"/>
<path d="M215.4,763.1999999999999V772.4" fill="none" stroke="#960a30" stroke-width="1.6"/>
<path d="M218.75,766.1V775.3000000000001M220.7,766.1V775.3000000000001M223,766.1V775.3000000000001M225.5,766.1V775.3000000000001M227.9,766.1V775.3000000000001M230.8,766.1V775.3000000000001M233.2,766.1V775.3000000000001M238,766.1V775.3000000000001" fill="none" stroke="#960a30" stroke-width="1.6"/>
<line x1="83.8" y1="765" x2="104.6" y2="765" stroke="#960a30" stroke-width="2.2"/>
<line x1="83.8" y1="781.6" x2="104.6" y2="781.6" stroke="#263a68" stroke-width="2.2"/>
<text x="115.80" y="769.2" font-size="11.3" textLength="57.85" lengthAdjust="spacingAndGlyphs" fill="#262626">IDO1 Low</text>
<text x="115.80" y="785.5" font-size="11.3" textLength="51.68" lengthAdjust="spacingAndGlyphs" fill="#262626">IDO1 High</text>
<text x="115.80" y="801.2" font-size="11.2" textLength="109.22" lengthAdjust="spacingAndGlyphs" fill="#262626">HR: 0.28 (0.16–0.49);</text>
<text x="115.80" y="815" font-size="11.2" textLength="46.21" lengthAdjust="spacingAndGlyphs" fill="#262626">p=1e–05</text>
<text x="277.80" y="657.7" font-size="17.2" font-weight="bold" textLength="10.13" lengthAdjust="spacingAndGlyphs" fill="#000" class="L">E</text>
<rect x="325" y="664.2" width="182.7" height="158.0999999999999" fill="none" stroke="#000" stroke-width="1.6"/>
<line x1="319.5" y1="681.98" x2="325" y2="681.98" stroke="#000" stroke-width="1.8"/>
<text x="314.6" y="685.98" font-size="11" text-anchor="end" fill="#262626">2</text>
<line x1="319.5" y1="707.74" x2="325" y2="707.74" stroke="#000" stroke-width="1.8"/>
<text x="314.6" y="711.74" font-size="11" text-anchor="end" fill="#262626">1</text>
<line x1="319.5" y1="733.5" x2="325" y2="733.5" stroke="#000" stroke-width="1.8"/>
<text x="314.6" y="737.5" font-size="11" text-anchor="end" fill="#262626">0</text>
<line x1="319.5" y1="759.26" x2="325" y2="759.26" stroke="#000" stroke-width="1.8"/>
<text x="314.6" y="763.26" font-size="11" text-anchor="end" fill="#262626">–1</text>
<line x1="319.5" y1="785.02" x2="325" y2="785.02" stroke="#000" stroke-width="1.8"/>
<text x="314.6" y="789.02" font-size="11" text-anchor="end" fill="#262626">–2</text>
<line x1="319.5" y1="810.78" x2="325" y2="810.78" stroke="#000" stroke-width="1.8"/>
<text x="314.6" y="814.78" font-size="11" text-anchor="end" fill="#262626">–3</text>
<line x1="332.6" y1="822.3" x2="332.6" y2="827.8" stroke="#000" stroke-width="1.8"/>
<text x="332.6" y="844.3" font-size="10.8" text-anchor="middle" fill="#262626">1</text>
<line x1="358.20000000000005" y1="822.3" x2="358.20000000000005" y2="827.8" stroke="#000" stroke-width="1.8"/>
<text x="358.2" y="844.3" font-size="10.8" text-anchor="middle" fill="#262626">2</text>
<line x1="383.8" y1="822.3" x2="383.8" y2="827.8" stroke="#000" stroke-width="1.8"/>
<text x="383.8" y="844.3" font-size="10.8" text-anchor="middle" fill="#262626">3</text>
<line x1="409.40000000000003" y1="822.3" x2="409.40000000000003" y2="827.8" stroke="#000" stroke-width="1.8"/>
<text x="409.4" y="844.3" font-size="10.8" text-anchor="middle" fill="#262626">4</text>
<line x1="435.0" y1="822.3" x2="435.0" y2="827.8" stroke="#000" stroke-width="1.8"/>
<text x="435.0" y="844.3" font-size="10.8" text-anchor="middle" fill="#262626">5</text>
<line x1="460.6" y1="822.3" x2="460.6" y2="827.8" stroke="#000" stroke-width="1.8"/>
<text x="460.6" y="844.3" font-size="10.8" text-anchor="middle" fill="#262626">6</text>
<line x1="486.20000000000005" y1="822.3" x2="486.20000000000005" y2="827.8" stroke="#000" stroke-width="1.8"/>
<text x="486.2" y="844.3" font-size="10.8" text-anchor="middle" fill="#262626">7</text>
<text class="h" transform="translate(287.8,780.50) rotate(-90)" x="0" y="0" font-size="13.4" textLength="74.32" lengthAdjust="spacingAndGlyphs" fill="#262626">T–effector score</text>
<text x="406.20" y="866.3" font-size="13.8" textLength="19.49" lengthAdjust="spacingAndGlyphs" fill="#262626" class="h">IDO1</text>
<line x1="325" y1="810" x2="507.7" y2="670.5" stroke="#8a0a32" stroke-width="1.9"/>
<path d="M334.1,816.4a2.8,2.8 0 1,0 -5.6,0a2.8,2.8 0 1,0 5.6,0M356.3,772.4a2.8,2.8 0 1,0 -5.6,0a2.8,2.8 0 1,0 5.6,0M379.0,783.5a2.8,2.8 0 1,0 -5.6,0a2.8,2.8 0 1,0 5.6,0M380.8,781.8a2.8,2.8 0 1,0 -5.6,0a2.8,2.8 0 1,0 5.6,0M379.3,760.3a2.8,2.8 0 1,0 -5.6,0a2.8,2.8 0 1,0 5.6,0M381.6,761.8a2.8,2.8 0 1,0 -5.6,0a2.8,2.8 0 1,0 5.6,0M383.6,763.1a2.8,2.8 0 1,0 -5.6,0a2.8,2.8 0 1,0 5.6,0M384.7,767.5a2.8,2.8 0 1,0 -5.6,0a2.8,2.8 0 1,0 5.6,0M379.0,766.9a2.8,2.8 0 1,0 -5.6,0a2.8,2.8 0 1,0 5.6,0M388.6,759.2a2.8,2.8 0 1,0 -5.6,0a2.8,2.8 0 1,0 5.6,0M389.3,754.2a2.8,2.8 0 1,0 -5.6,0a2.8,2.8 0 1,0 5.6,0M391.6,757.7a2.8,2.8 0 1,0 -5.6,0a2.8,2.8 0 1,0 5.6,0M394.1,771.8a2.8,2.8 0 1,0 -5.6,0a2.8,2.8 0 1,0 5.6,0M395.9,743.6a2.8,2.8 0 1,0 -5.6,0a2.8,2.8 0 1,0 5.6,0M397.0,753a2.8,2.8 0 1,0 -5.6,0a2.8,2.8 0 1,0 5.6,0M403.0,739.6a2.8,2.8 0 1,0 -5.6,0a2.8,2.8 0 1,0 5.6,0M403.2,768.3a2.8,2.8 0 1,0 -5.6,0a2.8,2.8 0 1,0 5.6,0M404.3,782a2.8,2.8 0 1,0 -5.6,0a2.8,2.8 0 1,0 5.6,0M402.4,756.2a2.8,2.8 0 1,0 -5.6,0a2.8,2.8 0 1,0 5.6,0M404.0,749.6a2.8,2.8 0 1,0 -5.6,0a2.8,2.8 0 1,0 5.6,0M405.5,760.4a2.8,2.8 0 1,0 -5.6,0a2.8,2.8 0 1,0 5.6,0M407.4,757.3a2.8,2.8 0 1,0 -5.6,0a2.8,2.8 0 1,0 5.6,0M408.2,742.3a2.8,2.8 0 1,0 -5.6,0a2.8,2.8 0 1,0 5.6,0M409.9,735.7a2.8,2.8 0 1,0 -5.6,0a2.8,2.8 0 1,0 5.6,0M416.3,714.1a2.8,2.8 0 1,0 -5.6,0a2.8,2.8 0 1,0 5.6,0M418.4,718.6a2.8,2.8 0 1,0 -5.6,0a2.8,2.8 0 1,0 5.6,0M415.9,756.9a2.8,2.8 0 1,0 -5.6,0a2.8,2.8 0 1,0 5.6,0M430.5,710.8a2.8,2.8 0 1,0 -5.6,0a2.8,2.8 0 1,0 5.6,0M437.6,709.4a2.8,2.8 0 1,0 -5.6,0a2.8,2.8 0 1,0 5.6,0M440.4,702a2.8,2.8 0 1,0 -5.6,0a2.8,2.8 0 1,0 5.6,0M447.8,685.5a2.8,2.8 0 1,0 -5.6,0a2.8,2.8 0 1,0 5.6,0M450.1,694a2.8,2.8 0 1,0 -5.6,0a2.8,2.8 0 1,0 5.6,0M449.1,704.2a2.8,2.8 0 1,0 -5.6,0a2.8,2.8 0 1,0 5.6,0M455.0,705.2a2.8,2.8 0 1,0 -5.6,0a2.8,2.8 0 1,0 5.6,0M442.8,712.3a2.8,2.8 0 1,0 -5.6,0a2.8,2.8 0 1,0 5.6,0M446.6,709.2a2.8,2.8 0 1,0 -5.6,0a2.8,2.8 0 1,0 5.6,0M453.2,712.3a2.8,2.8 0 1,0 -5.6,0a2.8,2.8 0 1,0 5.6,0M447.0,715.4a2.8,2.8 0 1,0 -5.6,0a2.8,2.8 0 1,0 5.6,0M455.2,724a2.8,2.8 0 1,0 -5.6,0a2.8,2.8 0 1,0 5.6,0M455.5,729.8a2.8,2.8 0 1,0 -5.6,0a2.8,2.8 0 1,0 5.6,0M445.5,733.8a2.8,2.8 0 1,0 -5.6,0a2.8,2.8 0 1,0 5.6,0M447.8,746.2a2.8,2.8 0 1,0 -5.6,0a2.8,2.8 0 1,0 5.6,0M433.2,751a2.8,2.8 0 1,0 -5.6,0a2.8,2.8 0 1,0 5.6,0M466.3,706.9a2.8,2.8 0 1,0 -5.6,0a2.8,2.8 0 1,0 5.6,0M473.1,703.4a2.8,2.8 0 1,0 -5.6,0a2.8,2.8 0 1,0 5.6,0M474.3,711.6a2.8,2.8 0 1,0 -5.6,0a2.8,2.8 0 1,0 5.6,0M469.0,714.4a2.8,2.8 0 1,0 -5.6,0a2.8,2.8 0 1,0 5.6,0M470.9,689.8a2.8,2.8 0 1,0 -5.6,0a2.8,2.8 0 1,0 5.6,0M476.6,688.5a2.8,2.8 0 1,0 -5.6,0a2.8,2.8 0 1,0 5.6,0M475.1,678.2a2.8,2.8 0 1,0 -5.6,0a2.8,2.8 0 1,0 5.6,0M491.0,692.8a2.8,2.8 0 1,0 -5.6,0a2.8,2.8 0 1,0 5.6,0M504.0,669.9a2.8,2.8 0 1,0 -5.6,0a2.8,2.8 0 1,0 5.6,0M423.0,763a2.8,2.8 0 1,0 -5.6,0a2.8,2.8 0 1,0 5.6,0M417.8,757.9a2.8,2.8 0 1,0 -5.6,0a2.8,2.8 0 1,0 5.6,0M404.8,749.2a2.8,2.8 0 1,0 -5.6,0a2.8,2.8 0 1,0 5.6,0M418.6,720.4a2.8,2.8 0 1,0 -5.6,0a2.8,2.8 0 1,0 5.6,0M430.9,718.5a2.8,2.8 0 1,0 -5.6,0a2.8,2.8 0 1,0 5.6,0M429.3,718.5a2.8,2.8 0 1,0 -5.6,0a2.8,2.8 0 1,0 5.6,0M467.0,715.4a2.8,2.8 0 1,0 -5.6,0a2.8,2.8 0 1,0 5.6,0M385.1,767.3a2.8,2.8 0 1,0 -5.6,0a2.8,2.8 0 1,0 5.6,0M398.6,753a2.8,2.8 0 1,0 -5.6,0a2.8,2.8 0 1,0 5.6,0M439.1,714.3a2.8,2.8 0 1,0 -5.6,0a2.8,2.8 0 1,0 5.6,0M442.0,714.0a2.8,2.8 0 1,0 -5.6,0a2.8,2.8 0 1,0 5.6,0M446.9,714.7a2.8,2.8 0 1,0 -5.6,0a2.8,2.8 0 1,0 5.6,0M430.2,717.5a2.8,2.8 0 1,0 -5.6,0a2.8,2.8 0 1,0 5.6,0M435.0,718.7a2.8,2.8 0 1,0 -5.6,0a2.8,2.8 0 1,0 5.6,0M438.3,718.0a2.8,2.8 0 1,0 -5.6,0a2.8,2.8 0 1,0 5.6,0M441.5,718.1a2.8,2.8 0 1,0 -5.6,0a2.8,2.8 0 1,0 5.6,0M447.2,718.8a2.8,2.8 0 1,0 -5.6,0a2.8,2.8 0 1,0 5.6,0M451.8,717.1a2.8,2.8 0 1,0 -5.6,0a2.8,2.8 0 1,0 5.6,0M424.8,721.3a2.8,2.8 0 1,0 -5.6,0a2.8,2.8 0 1,0 5.6,0M430.1,722.3a2.8,2.8 0 1,0 -5.6,0a2.8,2.8 0 1,0 5.6,0M435.0,722.3a2.8,2.8 0 1,0 -5.6,0a2.8,2.8 0 1,0 5.6,0M437.9,721.2a2.8,2.8 0 1,0 -5.6,0a2.8,2.8 0 1,0 5.6,0M442.3,722.3a2.8,2.8 0 1,0 -5.6,0a2.8,2.8 0 1,0 5.6,0M447.9,720.6a2.8,2.8 0 1,0 -5.6,0a2.8,2.8 0 1,0 5.6,0M450.2,720.8a2.8,2.8 0 1,0 -5.6,0a2.8,2.8 0 1,0 5.6,0M421.6,725.5a2.8,2.8 0 1,0 -5.6,0a2.8,2.8 0 1,0 5.6,0M426.2,724.1a2.8,2.8 0 1,0 -5.6,0a2.8,2.8 0 1,0 5.6,0M431.0,725.9a2.8,2.8 0 1,0 -5.6,0a2.8,2.8 0 1,0 5.6,0M435.1,725.9a2.8,2.8 0 1,0 -5.6,0a2.8,2.8 0 1,0 5.6,0M438.1,725.0a2.8,2.8 0 1,0 -5.6,0a2.8,2.8 0 1,0 5.6,0M441.6,725.5a2.8,2.8 0 1,0 -5.6,0a2.8,2.8 0 1,0 5.6,0M445.7,724.2a2.8,2.8 0 1,0 -5.6,0a2.8,2.8 0 1,0 5.6,0M450.3,724.4a2.8,2.8 0 1,0 -5.6,0a2.8,2.8 0 1,0 5.6,0M419.0,728.6a2.8,2.8 0 1,0 -5.6,0a2.8,2.8 0 1,0 5.6,0M423.5,728.1a2.8,2.8 0 1,0 -5.6,0a2.8,2.8 0 1,0 5.6,0M428.8,730.2a2.8,2.8 0 1,0 -5.6,0a2.8,2.8 0 1,0 5.6,0M432.1,729.0a2.8,2.8 0 1,0 -5.6,0a2.8,2.8 0 1,0 5.6,0M435.4,728.0a2.8,2.8 0 1,0 -5.6,0a2.8,2.8 0 1,0 5.6,0M440.2,728.4a2.8,2.8 0 1,0 -5.6,0a2.8,2.8 0 1,0 5.6,0M445.6,728.2a2.8,2.8 0 1,0 -5.6,0a2.8,2.8 0 1,0 5.6,0M447.9,730.1a2.8,2.8 0 1,0 -5.6,0a2.8,2.8 0 1,0 5.6,0M412.1,733.3a2.8,2.8 0 1,0 -5.6,0a2.8,2.8 0 1,0 5.6,0M414.8,732.5a2.8,2.8 0 1,0 -5.6,0a2.8,2.8 0 1,0 5.6,0M418.8,733.5a2.8,2.8 0 1,0 -5.6,0a2.8,2.8 0 1,0 5.6,0M423.9,733.5a2.8,2.8 0 1,0 -5.6,0a2.8,2.8 0 1,0 5.6,0M427.6,732.1a2.8,2.8 0 1,0 -5.6,0a2.8,2.8 0 1,0 5.6,0M432.9,734.0a2.8,2.8 0 1,0 -5.6,0a2.8,2.8 0 1,0 5.6,0M437.2,733.5a2.8,2.8 0 1,0 -5.6,0a2.8,2.8 0 1,0 5.6,0M441.4,733.4a2.8,2.8 0 1,0 -5.6,0a2.8,2.8 0 1,0 5.6,0M444.1,732.8a2.8,2.8 0 1,0 -5.6,0a2.8,2.8 0 1,0 5.6,0M448.7,731.7a2.8,2.8 0 1,0 -5.6,0a2.8,2.8 0 1,0 5.6,0M412.2,737.8a2.8,2.8 0 1,0 -5.6,0a2.8,2.8 0 1,0 5.6,0M416.5,736.3a2.8,2.8 0 1,0 -5.6,0a2.8,2.8 0 1,0 5.6,0M418.9,735.9a2.8,2.8 0 1,0 -5.6,0a2.8,2.8 0 1,0 5.6,0M423.1,735.9a2.8,2.8 0 1,0 -5.6,0a2.8,2.8 0 1,0 5.6,0M428.3,737.6a2.8,2.8 0 1,0 -5.6,0a2.8,2.8 0 1,0 5.6,0M433.0,736.6a2.8,2.8 0 1,0 -5.6,0a2.8,2.8 0 1,0 5.6,0M436.8,737.3a2.8,2.8 0 1,0 -5.6,0a2.8,2.8 0 1,0 5.6,0M439.6,737.0a2.8,2.8 0 1,0 -5.6,0a2.8,2.8 0 1,0 5.6,0M445.8,737.3a2.8,2.8 0 1,0 -5.6,0a2.8,2.8 0 1,0 5.6,0M411.0,741.5a2.8,2.8 0 1,0 -5.6,0a2.8,2.8 0 1,0 5.6,0M415.9,739.6a2.8,2.8 0 1,0 -5.6,0a2.8,2.8 0 1,0 5.6,0M418.7,739.6a2.8,2.8 0 1,0 -5.6,0a2.8,2.8 0 1,0 5.6,0M424.8,741.1a2.8,2.8 0 1,0 -5.6,0a2.8,2.8 0 1,0 5.6,0M427.2,741.2a2.8,2.8 0 1,0 -5.6,0a2.8,2.8 0 1,0 5.6,0M433.4,740.8a2.8,2.8 0 1,0 -5.6,0a2.8,2.8 0 1,0 5.6,0M436.0,740.5a2.8,2.8 0 1,0 -5.6,0a2.8,2.8 0 1,0 5.6,0M439.7,739.2a2.8,2.8 0 1,0 -5.6,0a2.8,2.8 0 1,0 5.6,0M410.6,744.4a2.8,2.8 0 1,0 -5.6,0a2.8,2.8 0 1,0 5.6,0M414.8,744.0a2.8,2.8 0 1,0 -5.6,0a2.8,2.8 0 1,0 5.6,0M418.7,745.2a2.8,2.8 0 1,0 -5.6,0a2.8,2.8 0 1,0 5.6,0M423.4,744.1a2.8,2.8 0 1,0 -5.6,0a2.8,2.8 0 1,0 5.6,0M428.2,745.2a2.8,2.8 0 1,0 -5.6,0a2.8,2.8 0 1,0 5.6,0M432.0,745.2a2.8,2.8 0 1,0 -5.6,0a2.8,2.8 0 1,0 5.6,0M436.4,744.3a2.8,2.8 0 1,0 -5.6,0a2.8,2.8 0 1,0 5.6,0M440.7,743.0a2.8,2.8 0 1,0 -5.6,0a2.8,2.8 0 1,0 5.6,0M408.6,748.0a2.8,2.8 0 1,0 -5.6,0a2.8,2.8 0 1,0 5.6,0M413.3,748.7a2.8,2.8 0 1,0 -5.6,0a2.8,2.8 0 1,0 5.6,0M416.5,748.1a2.8,2.8 0 1,0 -5.6,0a2.8,2.8 0 1,0 5.6,0M421.0,747.5a2.8,2.8 0 1,0 -5.6,0a2.8,2.8 0 1,0 5.6,0M426.5,748.0a2.8,2.8 0 1,0 -5.6,0a2.8,2.8 0 1,0 5.6,0M430.1,748.6a2.8,2.8 0 1,0 -5.6,0a2.8,2.8 0 1,0 5.6,0M409.1,752.9a2.8,2.8 0 1,0 -5.6,0a2.8,2.8 0 1,0 5.6,0M414.0,750.9a2.8,2.8 0 1,0 -5.6,0a2.8,2.8 0 1,0 5.6,0M416.5,751.7a2.8,2.8 0 1,0 -5.6,0a2.8,2.8 0 1,0 5.6,0M420.6,751.2a2.8,2.8 0 1,0 -5.6,0a2.8,2.8 0 1,0 5.6,0M424.8,752.2a2.8,2.8 0 1,0 -5.6,0a2.8,2.8 0 1,0 5.6,0M409.0,755.2a2.8,2.8 0 1,0 -5.6,0a2.8,2.8 0 1,0 5.6,0M412.5,755.2a2.8,2.8 0 1,0 -5.6,0a2.8,2.8 0 1,0 5.6,0M417.9,754.4a2.8,2.8 0 1,0 -5.6,0a2.8,2.8 0 1,0 5.6,0M421.7,755.5a2.8,2.8 0 1,0 -5.6,0a2.8,2.8 0 1,0 5.6,0M416.4,758.3a2.8,2.8 0 1,0 -5.6,0a2.8,2.8 0 1,0 5.6,0" fill="none" stroke="#a30830" stroke-width="1.8"/>
<text x="349.00" y="685.2" font-size="10.4" textLength="36.01" lengthAdjust="spacingAndGlyphs" fill="#262626">r= 0.87</text>
</svg></body></html>
